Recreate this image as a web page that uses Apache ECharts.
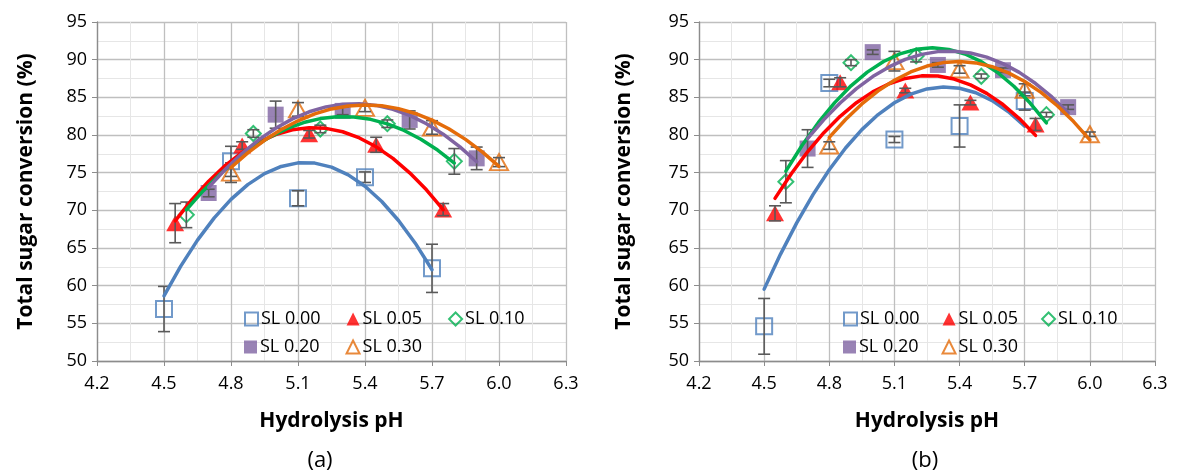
<!DOCTYPE html>
<html>
<head>
<meta charset="utf-8">
<script src="https://cdn.jsdelivr.net/npm/echarts@6/dist/echarts.min.js"></script>
<style>
  html, body { margin: 0; padding: 0; background: #fff; }
  #main { width: 1185px; height: 476px; }
</style>
</head>
<body>
<div id="main"></div>
<script>
// pH of the measured points, per lignosulfonate level
var phSL000 = [4.5, 4.8, 5.1, 5.4, 5.7];
var phSL005 = [4.55, 4.85, 5.15, 5.45, 5.75];
var phSL010 = [4.6, 4.9, 5.2, 5.5, 5.8];
var phSL020 = [4.7, 5.0, 5.3, 5.6, 5.9];
var phSL030 = [4.8, 5.1, 5.4, 5.7, 6.0];

var fitPhSL000 = [4.5, 4.575, 4.65, 4.725, 4.8, 4.875, 4.95, 5.025, 5.1, 5.175, 5.25, 5.325, 5.4, 5.475, 5.55, 5.625, 5.7];
var fitPhSL005 = [4.55, 4.625, 4.7, 4.775, 4.85, 4.925, 5.0, 5.075, 5.15, 5.225, 5.3, 5.375, 5.45, 5.525, 5.6, 5.675, 5.75];
var fitPhSL010 = [4.6, 4.675, 4.75, 4.825, 4.9, 4.975, 5.05, 5.125, 5.2, 5.275, 5.35, 5.425, 5.5, 5.575, 5.65, 5.725, 5.8];
var fitPhSL020 = [4.7, 4.775, 4.85, 4.925, 5.0, 5.075, 5.15, 5.225, 5.3, 5.375, 5.45, 5.525, 5.6, 5.675, 5.75, 5.825, 5.9];
var fitPhSL030 = [4.8, 4.875, 4.95, 5.025, 5.1, 5.175, 5.25, 5.325, 5.4, 5.475, 5.55, 5.625, 5.7, 5.775, 5.85, 5.925, 6.0];

// panel (a)
var convA000 = [56.9, 76.5, 71.6, 74.4, 62.3];
var convA005 = [68.3, 78.6, 80.1, 78.7, 70.1];
var convA010 = [69.4, 80.2, 80.8, 81.5, 76.5];
var convA020 = [72.3, 82.7, 83.2, 82.0, 76.9];
var convA030 = [75.0, 83.4, 83.6, 81.0, 76.4];
var errA000 = [3.0, 2.0, 1.0, 0.7, 3.2];
var errA005 = [2.6, 0.5, 0.5, 1.0, 0.8];
var errA010 = [1.7, 0.5, 0.5, 0.5, 1.7];
var errA020 = [0.5, 1.8, 0.5, 1.2, 1.5];
var errA030 = [1.3, 0.9, 0.5, 0.9, 0.6];
var fitA000 = [58.64, 62.59, 66.04, 69.00, 71.45, 73.41, 74.87, 75.83, 76.30, 76.27, 75.74, 74.71, 73.19, 71.17, 68.65, 65.64, 62.12];
var fitA005 = [68.60, 71.42, 73.87, 75.97, 77.69, 79.06, 80.06, 80.70, 80.97, 80.88, 80.43, 79.61, 78.43, 76.89, 74.98, 72.72, 70.08];
var fitA010 = [70.08, 72.58, 74.79, 76.73, 78.38, 79.75, 80.84, 81.65, 82.18, 82.43, 82.39, 82.08, 81.48, 80.60, 79.44, 78.00, 76.28];
var fitA020 = [73.05, 75.45, 77.56, 79.38, 80.90, 82.14, 83.08, 83.73, 84.09, 84.16, 83.93, 83.41, 82.60, 81.50, 80.11, 78.42, 76.45];
var fitA030 = [75.68, 77.62, 79.30, 80.73, 81.89, 82.80, 83.46, 83.85, 83.99, 83.87, 83.50, 82.86, 81.97, 80.83, 79.42, 77.76, 75.84];

// panel (b)
var convB000 = [54.6, 86.9, 79.4, 81.2, 84.5];
var convB005 = [69.6, 87.0, 85.9, 84.3, 81.4];
var convB010 = [73.8, 89.6, 90.5, 87.8, 82.7];
var convB020 = [78.2, 91.0, 89.3, 88.6, 83.7];
var convB030 = [78.6, 89.8, 88.7, 86.0, 80.1];
var errB000 = [3.7, 0.5, 0.4, 2.8, 1.2];
var errB005 = [1.0, 0.6, 0.3, 0.3, 0.8];
var errB010 = [2.8, 0.4, 0.8, 0.3, 0.3];
var errB020 = [2.5, 0.3, 0.3, 0.3, 0.3];
var errB030 = [0.5, 1.3, 0.5, 0.8, 0.3];
var fitB000 = [59.54, 64.16, 68.34, 72.08, 75.39, 78.27, 80.71, 82.71, 84.28, 85.42, 86.12, 86.38, 86.21, 85.61, 84.57, 83.09, 81.18];
var fitB005 = [71.59, 74.86, 77.77, 80.31, 82.48, 84.29, 85.73, 86.80, 87.51, 87.85, 87.82, 87.43, 86.66, 85.53, 84.04, 82.18, 79.95];
var fitB010 = [75.20, 78.64, 81.67, 84.30, 86.53, 88.35, 89.76, 90.77, 91.37, 91.57, 91.36, 90.75, 89.73, 88.30, 86.47, 84.24, 81.60];
var fitB020 = [79.52, 82.04, 84.25, 86.16, 87.75, 89.04, 90.03, 90.70, 91.07, 91.13, 90.89, 90.33, 89.47, 88.31, 86.83, 85.05, 82.96];
var fitB030 = [79.68, 82.06, 84.12, 85.86, 87.27, 88.37, 89.15, 89.61, 89.75, 89.57, 89.07, 88.25, 87.11, 85.66, 83.88, 81.78, 79.36];

var names = ['SL 0.00', 'SL 0.05', 'SL 0.10', 'SL 0.20', 'SL 0.30'];

var FONT = 'Open Sans';
var myChart = echarts.init(document.getElementById('main'));

// marker look per level
var looks = [
    { symbol: 'rect', size: 16, color: '#4f81bd', hollow: true },
    { symbol: 'triangle', size: [18, 16], color: '#ff0000', hollow: false },
    { symbol: 'diamond', size: 15, color: '#00b050', hollow: true },
    { symbol: 'rect', size: 16, color: '#8064a2', hollow: false },
    { symbol: 'triangle', size: [18, 16], color: '#e46c0a', hollow: true }
];

var panels = [
    { conv: [convA000, convA005, convA010, convA020, convA030],
      err: [errA000, errA005, errA010, errA020, errA030],
      fit: [fitA000, fitA005, fitA010, fitA020, fitA030] },
    { conv: [convB000, convB005, convB010, convB020, convB030],
      err: [errB000, errB005, errB010, errB020, errB030],
      fit: [fitB000, fitB005, fitB010, fitB020, fitB030] }
];
var phs = [phSL000, phSL005, phSL010, phSL020, phSL030];
var fitPhs = [fitPhSL000, fitPhSL005, fitPhSL010, fitPhSL020, fitPhSL030];

function renderErr(params, api) {
    var x = api.value(0);
    var top = api.coord([x, api.value(2)]);
    var bot = api.coord([x, api.value(1)]);
    var w = 6;
    var st = { stroke: '#595959', lineWidth: 1.6 };
    return {
        type: 'group',
        children: [
            { type: 'line', shape: { x1: top[0], y1: top[1], x2: bot[0], y2: bot[1] }, style: st },
            { type: 'line', shape: { x1: top[0] - w, y1: top[1], x2: top[0] + w, y2: top[1] }, style: st },
            { type: 'line', shape: { x1: bot[0] - w, y1: bot[1], x2: bot[0] + w, y2: bot[1] }, style: st }
        ]
    };
}

var series = [];
panels.forEach(function (p, k) {
    for (var i = 0; i < 5; i++) {
        var lk = looks[i];
        var conv = p.conv[i], err = p.err[i], fit = p.fit[i];
        var pts = phs[i].map(function (x, j) { return [x, conv[j]]; });
        var bars = phs[i].map(function (x, j) { return [x, conv[j] - err[j], conv[j] + err[j]]; });
        var curve = fitPhs[i].map(function (x, j) { return [x, fit[j]]; });
        series.push({
            name: names[i],
            type: 'scatter',
            xAxisIndex: k, yAxisIndex: k,
            symbol: lk.symbol,
            symbolSize: lk.size,
            itemStyle: lk.hollow
                ? { color: 'rgba(255,255,255,0)', borderColor: lk.color, borderWidth: 2 }
                : { color: lk.color },
            data: pts,
            z: 2
        });
        series.push({
            type: 'custom',
            xAxisIndex: k, yAxisIndex: k,
            renderItem: renderErr,
            data: bars,
            silent: true,
            z: 3
        });
        // trend curve, dense enough to draw without smoothing
        series.push({
            type: 'line',
            xAxisIndex: k, yAxisIndex: k,
            data: curve,
            smooth: false,
            showSymbol: false,
            lineStyle: { color: lk.color, width: 3.5, join: 'round', cap: 'round' },
            itemStyle: { color: lk.color },
            silent: true,
            z: 4
        });
    }
});

function xAxis(k) {
    return {
        type: 'value', gridIndex: k,
        min: 4.2, max: 6.3, interval: 0.3,
        name: 'Hydrolysis pH', nameLocation: 'middle', nameGap: 50,
        nameTextStyle: { fontFamily: FONT, fontWeight: 'bold', fontSize: 21, color: '#000' },
        axisLine: { onZero: false, lineStyle: { color: '#8c8c8c', width: 1.3 } },
        axisTick: { show: true, length: 5, lineStyle: { color: '#8c8c8c' } },
        axisLabel: { fontFamily: FONT, fontSize: 18, color: '#000', margin: 14,
            formatter: function (v) { return v.toFixed(1); } },
        splitLine: { show: true, lineStyle: { color: '#bfbfbf', width: 1.3 } },
        minorTick: { show: false, splitNumber: 2 },
        minorSplitLine: { show: true, lineStyle: { color: '#e6e6e6', width: 1 } }
    };
}
function yAxis(k, gap) {
    return {
        type: 'value', gridIndex: k,
        min: 50, max: 95, interval: 5,
        name: 'Total sugar conversion (%)', nameLocation: 'middle', nameGap: gap,
        nameTextStyle: { fontFamily: FONT, fontWeight: 'bold', fontSize: 21, color: '#000' },
        axisLine: { show: true, lineStyle: { color: '#8c8c8c', width: 1.3 } },
        axisTick: { show: true, length: 5, lineStyle: { color: '#8c8c8c' } },
        axisLabel: { fontFamily: FONT, fontSize: 18, color: '#000', margin: 10 },
        splitLine: { show: true, lineStyle: { color: '#bfbfbf', width: 1.3 } },
        minorTick: { show: false, splitNumber: 2 },
        minorSplitLine: { show: true, lineStyle: { color: '#e6e6e6', width: 1 } }
    };
}

function legendRow(data, left, top, gap) {
    return {
        data: data, left: left, top: top,
        orient: 'horizontal', itemGap: gap,
        itemWidth: 13, itemHeight: 13,
        selectedMode: false,
        textStyle: { fontFamily: FONT, fontSize: 18, color: '#000', width: 70, padding: [0, 0, 0, -2] }
    };
}

var option = {
    animation: false,
    backgroundColor: '#fff',
    grid: [
        { left: 97, top: 22, width: 469, height: 339 },
        { left: 699, top: 22, width: 456, height: 339 }
    ],
    xAxis: [xAxis(0), xAxis(1)],
    yAxis: [yAxis(0, 60), yAxis(1, 64)],
    legend: [
        legendRow(names.slice(0, 3), 239, 305, 26),
        legendRow(names.slice(3), 239, 333, 26),
        legendRow(names.slice(0, 3), 838, 305, 23),
        legendRow(names.slice(3), 838, 333, 23)
    ],
    graphic: [
        { type: 'text', x: 320, y: 461, style: { text: '(a)', font: '22px "Open Sans"', fill: '#000', textAlign: 'center', textVerticalAlign: 'middle' } },
        { type: 'text', x: 925, y: 461, style: { text: '(b)', font: '22px "Open Sans"', fill: '#000', textAlign: 'center', textVerticalAlign: 'middle' } }
    ],
    series: series
};
myChart.setOption(option);
</script>
</body>
</html>
